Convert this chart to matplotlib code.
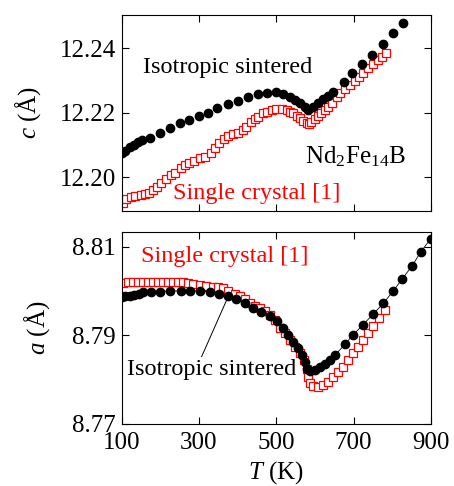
import matplotlib
matplotlib.use("Agg")
import matplotlib.pyplot as plt

# ---- data ----
# c axis, isotropic sintered (black dots)
T_c_iso = [100, 109, 121, 132, 142, 152, 174, 198, 224, 250, 274, 300, 323, 347, 375,
           401, 427, 452, 476, 500, 518, 535, 548, 561, 574, 583, 596, 608, 621, 634,
           647, 675, 697, 723, 748, 777, 802, 828]
c_iso = [12.2074, 12.2082, 12.2093, 12.2101, 12.2108, 12.2115, 12.2120, 12.2138, 12.2152,
         12.2167, 12.2177, 12.2190, 12.2200, 12.2214, 12.2227, 12.2237, 12.2250, 12.2258,
         12.2262, 12.2263, 12.2258, 12.2248, 12.2239, 12.2229, 12.2217, 12.2208, 12.2219,
         12.2229, 12.2241, 12.2252, 12.2265, 12.2294, 12.2322, 12.2350, 12.2379, 12.2413,
         12.2446, 12.2479]

# c axis, single crystal [1] (red open squares)
T_c_sc = [104, 112, 123, 135, 149, 160, 172, 181, 192, 202, 215, 228, 239, 253, 263, 273,
          287, 302, 316, 330, 341, 353, 365, 375, 388, 401, 414, 422, 434, 444, 454, 466,
          477, 489, 500, 514, 527, 535, 544, 553, 561, 570, 579, 585, 591, 600, 609, 617,
          626, 634, 643, 656, 666, 678, 691, 703, 715, 725, 738, 751, 764, 773, 784]
c_sc = [12.1921, 12.1931, 12.1939, 12.1942, 12.1945, 12.1948, 12.1952, 12.1960, 12.1970,
        12.1981, 12.1994, 12.2007, 12.2014, 12.2027, 12.2038, 12.2045, 12.2050, 12.2058,
        12.2063, 12.2074, 12.2090, 12.2105, 12.2117, 12.2128, 12.2134, 12.2138, 12.2146,
        12.2157, 12.2172, 12.2179, 12.2188, 12.2198, 12.2203, 12.2208, 12.2210, 12.2210,
        12.2208, 12.2203, 12.2198, 12.2190, 12.2183, 12.2174, 12.2167, 12.2164, 12.2172,
        12.2179, 12.2190, 12.2200, 12.2208, 12.2219, 12.2229, 12.2248, 12.2260, 12.2273,
        12.2286, 12.2299, 12.2312, 12.2324, 12.2338, 12.2351, 12.2363, 12.2374, 12.2386]

# a axis, isotropic sintered
T_a_iso = [100, 108, 121, 132, 144, 155, 175, 198, 224, 253, 276, 302, 328, 351, 375, 397,
           418, 440, 461, 483, 501, 518, 531, 544, 557, 566, 574, 579, 587, 600, 613, 626,
           639, 652, 678, 699, 725, 751, 777, 802, 826, 852, 874, 900]
a_iso = [8.7987, 8.7988, 8.7989, 8.7991, 8.7994, 8.7997, 8.7997, 8.7998, 8.8000, 8.8000,
         8.8000, 8.8000, 8.7998, 8.7994, 8.7988, 8.7981, 8.7972, 8.7962, 8.7953, 8.7943,
         8.7931, 8.7916, 8.7901, 8.7885, 8.7871, 8.7855, 8.7840, 8.7825, 8.7820, 8.7822,
         8.7828, 8.7835, 8.7844, 8.7855, 8.7880, 8.7901, 8.7924, 8.7948, 8.7972, 8.7999,
         8.8027, 8.8057, 8.8088, 8.8118]

# a axis, single crystal [1]
T_a_sc = [103, 116, 129, 142, 155, 168, 181, 194, 207, 220, 233, 246, 259, 272, 284, 302,
          319, 336, 349, 362, 375, 392, 405, 418, 431, 444, 457, 470, 483, 496, 510, 522,
          535, 548, 561, 572, 579, 583, 587, 596, 609, 622, 634, 647, 660, 673, 686, 699,
          712, 725, 738, 751, 766, 781]
a_sc = [8.8018, 8.8019, 8.8021, 8.8021, 8.8019, 8.8021, 8.8021, 8.8021, 8.8021, 8.8021,
        8.8021, 8.8021, 8.8019, 8.8017, 8.8015, 8.8013, 8.8011, 8.8009, 8.8008, 8.8006,
        8.8000, 8.7994, 8.7988, 8.7981, 8.7973, 8.7966, 8.7961, 8.7955, 8.7946, 8.7934,
        8.7916, 8.7904, 8.7889, 8.7874, 8.7859, 8.7844, 8.7825, 8.7806, 8.7792, 8.7786,
        8.7784, 8.7788, 8.7795, 8.7806, 8.7818, 8.7829, 8.7844, 8.7859, 8.7874, 8.7889,
        8.7904, 8.7921, 8.7938, 8.7957]

x_ticks = [100, 300, 500, 700, 900]
c_ticks = [12.20, 12.22, 12.24]
a_ticks = [8.77, 8.79, 8.81]

# ---- style ----
plt.rcParams["font.family"] = ["Liberation Serif", "DejaVu Serif"]
plt.rcParams["mathtext.fontset"] = "custom"
plt.rcParams["mathtext.rm"] = "Liberation Serif"
plt.rcParams["mathtext.it"] = "Liberation Serif:italic"
plt.rcParams["font.size"] = 18

RED = "#ff0000"

fig = plt.figure(figsize=(4.54, 4.86), dpi=100)
ax1 = fig.add_axes([0.268, 0.5665, 0.681, 0.4025])
ax2 = fig.add_axes([0.268, 0.1276, 0.681, 0.3944])

for ax in (ax1, ax2):
    ax.tick_params(direction="in", top=True, right=True, length=5, width=0.8,
                   labelsize=18)
    ax.tick_params(axis="y", pad=4)
    ax.tick_params(axis="x", pad=6)
    for s in ax.spines.values():
        s.set_linewidth(0.8)
    ax.set_xlim(100, 900)
    ax.set_xticks(x_ticks)

# ---- top panel: c ----
ax1.plot(T_c_sc, c_sc, ls="none", marker="s", ms=5.2, mfc="white", mec=RED, mew=0.9)
ax1.plot(T_c_iso, c_iso, ls="none", marker="o", ms=6, mfc="black", mec="black")
ax1.set_ylim(12.1896, 12.2503)
ax1.set_yticks(c_ticks)
ax1.set_yticklabels(["12.20", "12.22", "12.24"])
ax1.tick_params(axis="x", labelbottom=False)
ax1.set_ylabel(r"$c$ (Å)")
ax1.yaxis.set_label_coords(-0.254, 0.5)

ax1.text(155, 12.2339, "Isotropic sintered", fontsize=17.5, va="center", ha="left")
ax1.text(574, 12.2064, r"Nd$_2$Fe$_{14}$B", fontsize=18, va="center", ha="left")
ax1.text(232, 12.1950, "Single crystal [1]", fontsize=17.5, color=RED,
         va="center", ha="left")

# ---- bottom panel: a ----
ax2.plot(T_a_sc, a_sc, ls="none", marker="s", ms=5.2, mfc="white", mec=RED, mew=0.9)
ax2.plot(T_a_iso, a_iso, ls="-", lw=0.6, color="black", marker="o", ms=6,
         mfc="black", mec="black")
ax2.set_ylim(8.77, 8.8132)
ax2.set_yticks(a_ticks)
ax2.set_yticklabels(["8.77", "8.79", "8.81"])
ax2.set_ylabel(r"$a$ (Å)")
ax2.yaxis.set_label_coords(-0.226, 0.5)
ax2.set_xlabel(r"$T$ (K)")
ax2.xaxis.set_label_coords(0.5, -0.185)

ax2.text(149, 8.8077, "Single crystal [1]", fontsize=17.5, color=RED,
         va="center", ha="left")
ax2.text(113, 8.7822, "Isotropic sintered", fontsize=17.5, va="center", ha="left")
ax2.plot([307, 376], [8.7852, 8.7988], color="black", lw=0.7)

fig.savefig("out.png", dpi=100)
